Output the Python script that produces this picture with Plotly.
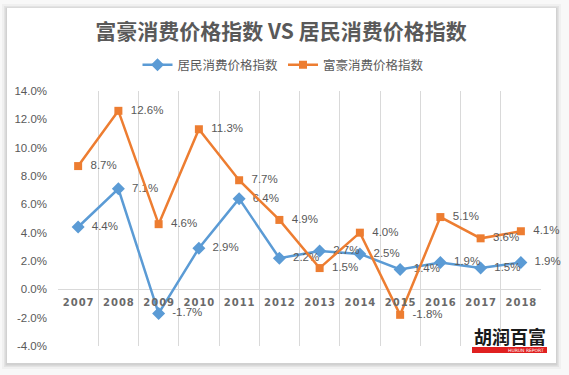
import plotly.graph_objects as go

years = ["2007", "2008", "2009", "2010", "2011", "2012", "2013", "2014", "2015", "2016", "2017", "2018"]
resident_cpi = [4.4, 7.1, -1.7, 2.9, 6.4, 2.2, 2.7, 2.5, 1.4, 1.9, 1.5, 1.9]
wealthy_cpi = [8.7, 12.6, 4.6, 11.3, 7.7, 4.9, 1.5, 4.0, -1.8, 5.1, 3.6, 4.1]
resident_name = "居民消费价格指数"
wealthy_name = "富豪消费价格指数"
title_text = "富豪消费价格指数 VS 居民消费价格指数"
y_ticks = [-4, -2, 0, 2, 4, 6, 8, 10, 12, 14]
y_tick_labels = [f"{v:.1f}%" for v in y_ticks]
year_labels = ["<b>" + "\u200a".join(y) + "</b>" for y in years]

W, H = 569, 375
L, R, T, B = 58, 28, 91, 29
PW, PH = W - L - R, H - T - B

def px(x):
    return (x - L) / PW

def py(y):
    return (H - B - y) / PH

CJK = "Noto Sans CJK SC"
NUM = "Liberation Sans, Noto Sans CJK SC"
GRAY = "#595959"
BLUE = "#5B9BD5"
ORANGE = "#ED7D31"

fig = go.Figure()
fig.add_trace(go.Scatter(
    x=years, y=resident_cpi, name=resident_name, mode="lines+markers+text",
    line=dict(color=BLUE, width=2.5),
    marker=dict(symbol="diamond", size=10, color=BLUE),
    text=["  " + f"{v:.1f}%" for v in resident_cpi], textposition="middle right",
    textfont=dict(family=NUM, size=11.5, color=GRAY), cliponaxis=False,
))
fig.add_trace(go.Scatter(
    x=years, y=wealthy_cpi, name=wealthy_name, mode="lines+markers+text",
    line=dict(color=ORANGE, width=2.5),
    marker=dict(symbol="square", size=8, color=ORANGE),
    text=["  " + f"{v:.1f}%" for v in wealthy_cpi], textposition="middle right",
    textfont=dict(family=NUM, size=11.5, color=GRAY), cliponaxis=False,
))

shapes = []
# card shadow and card
for pad, op in [(5, 0.03), (3, 0.05), (1.5, 0.08)]:
    shapes.append(dict(type="rect", xref="paper", yref="paper", layer="below",
                       x0=px(7 - pad), x1=px(556 + pad), y0=py(363 + pad + 1), y1=py(8 - pad + 1),
                       line=dict(width=0), fillcolor=f"rgba(0,0,0,{op})"))
shapes.append(dict(type="rect", xref="paper", yref="paper", layer="below",
                   x0=px(7), x1=px(556), y0=py(363), y1=py(8),
                   line=dict(width=0), fillcolor="white"))
# watermark red bar
shapes.append(dict(type="rect", xref="paper", yref="paper", layer="above",
                   x0=px(472), x1=px(547), y0=py(353), y1=py(347),
                   line=dict(width=0), fillcolor="#e02020"))

annotations = [
    dict(text="<b>胡润百富</b>", xref="paper", yref="paper", x=px(510), y=py(336),
         xanchor="center", yanchor="middle", showarrow=False,
         font=dict(family=CJK, size=18, color="#1a1a1a")),
    dict(text="HURUN REPORT", xref="paper", yref="paper", x=px(546), y=py(350),
         xanchor="right", yanchor="middle", showarrow=False,
         font=dict(family="DejaVu Sans", size=4.5, color="white")),
]

fig.update_layout(
    width=W, height=H,
    margin=dict(l=L, r=R, t=T, b=B, pad=0, autoexpand=False),
    paper_bgcolor="#f8f8f8", plot_bgcolor="rgba(0,0,0,0)",
    title=dict(text="<b>" + title_text + "</b>", x=281 / W, y=1 - 32 / H,
               xanchor="center", yanchor="middle", xref="container", yref="container",
               font=dict(family=CJK, size=21, color=GRAY)),
    legend=dict(orientation="h", x=px(283), y=py(65), xanchor="center", yanchor="middle",
                font=dict(family=CJK, size=12.5, color=GRAY), bgcolor="rgba(0,0,0,0)",
                itemwidth=30),
    showlegend=True,
    xaxis=dict(type="category", range=[-0.5, 11.5], anchor="free", position=4 / 18,
               tickvals=years, ticktext=year_labels,
               showgrid=True, gridcolor="#d9d9d9", gridwidth=1, tickson="boundaries",
               ticks="", showline=False, zeroline=False,
               tickfont=dict(family="DejaVu Sans", size=10, color="#6a6a6a"),
               ticklabelstandoff=6, fixedrange=True),
    yaxis=dict(range=[-4, 14], tickvals=y_ticks, ticktext=y_tick_labels,
               showgrid=False, zeroline=True, zerolinecolor="#d9d9d9", zerolinewidth=1,
               showline=False, ticks="",
               tickfont=dict(family=NUM, size=11.5, color=GRAY),
               ticklabelstandoff=10, fixedrange=True),
    shapes=shapes, annotations=annotations,
)

fig.write_html("out.html", config={"displayModeBar": False},
               post_script="document.body.style.margin='0';document.body.style.overflow='hidden';")
